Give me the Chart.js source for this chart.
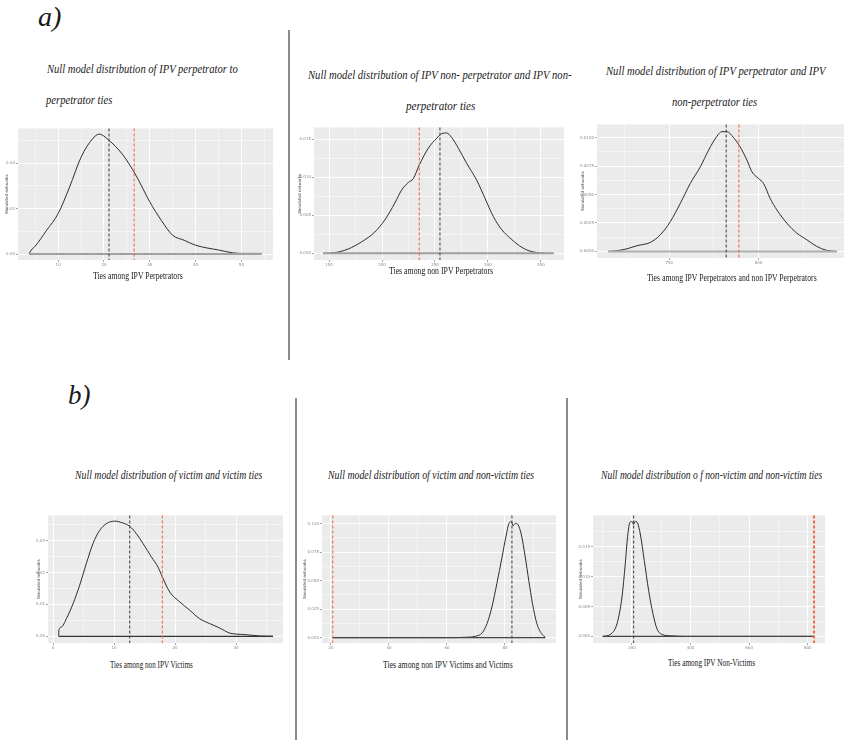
<!DOCTYPE html>
<html>
<head>
<meta charset="utf-8">
<script src="https://cdn.jsdelivr.net/npm/chart.js@4.4.0/dist/chart.umd.min.js"></script>
<style>
  body { margin: 0; width: 844px; height: 740px; overflow: hidden; background: #fff; position: relative;
         font-family: "Liberation Serif", "Times New Roman", serif; color: #1a1a1a; }
  .txt { position: absolute; white-space: nowrap; transform-origin: 0 50%; }
  .ttl { font-style: italic; font-size: 13.5px; line-height: 16px; }
  .lab { font-size: 10.5px; line-height: 12px; }
  .big { font-style: italic; font-size: 27px; line-height: 30px; }
  canvas { position: absolute; }
  .sep { position: absolute; width: 1.5px; background: #8c8c8c; }
</style>
</head>
<body>
<div class="sep" style="left:288px;top:30px;height:330px"></div>
<div class="sep" style="left:295px;top:398px;height:342px"></div>
<div class="sep" style="left:566px;top:398px;height:342px"></div>

<canvas id="c1"></canvas>
<canvas id="c2"></canvas>
<canvas id="c3"></canvas>
<canvas id="c4"></canvas>
<canvas id="c5"></canvas>
<canvas id="c6"></canvas>

<script>
// ---- data ----
// a) perpetrator to perpetrator
const p1X = [3.65, 4.1, 5, 7.5, 10, 12.5, 15, 17.5, 19, 21, 24, 27, 30, 32.5, 35, 37.5, 40, 45, 48, 50, 54.4];
const p1Y = [0, 0.0017, 0.0035, 0.0105, 0.0178, 0.0295, 0.0426, 0.0507, 0.0528, 0.0502, 0.044, 0.0346, 0.023, 0.0149, 0.0083, 0.0061, 0.0039, 0.0018, 0.0006, 0.0003, 0.0003];
const p1XTicks = [10, 20, 30, 40, 50];
const p1YTicks = [0, 0.02, 0.04];
const p1Vlines = [21.1, 26.6];   // black, red

// a) non-perpetrator and non-perpetrator
const p2X = [144.3, 155.4, 168.0, 180.6, 193.2, 202.7, 212.1, 218.5, 224.8, 229.5, 235.2, 243.7, 251.6, 256.3, 261.0, 265.8, 272.1, 280.0, 289.4, 297.3, 305.2, 313.1, 322.6, 332.0, 341.5, 350.9, 362.0];
const p2Y = [0, 0.00009, 0.00057, 0.0015, 0.0028, 0.0044, 0.0066, 0.0083, 0.0093, 0.0098, 0.0116, 0.0138, 0.0151, 0.0157, 0.0158, 0.0152, 0.0138, 0.0118, 0.0096, 0.0072, 0.0048, 0.0031, 0.0018, 0.00079, 0.00022, 0.00004, 0];
const p2XTicks = [150, 200, 250, 300, 350];
const p2YTicks = [0, 0.005, 0.01, 0.015];
const p2Vlines = [254.7, 235.2];

// a) perpetrator and non-perpetrator
const p3X = [715.7, 720.7, 726.3, 731.9, 739.4, 745.0, 750.6, 756.2, 761.8, 767.4, 772.0, 776.7, 779.5, 782.3, 786.0, 789.7, 793.5, 796.3, 800.0, 802.8, 806.5, 810.3, 815.9, 821.5, 827.1, 832.6, 838.2, 843.8];
const p3Y = [0, 0.00006, 0.00023, 0.0005, 0.00079, 0.00146, 0.00262, 0.00423, 0.00598, 0.00743, 0.00889, 0.01012, 0.01052, 0.01052, 0.01, 0.00918, 0.00802, 0.007, 0.00641, 0.00598, 0.00466, 0.00364, 0.00248, 0.0016, 0.00102, 0.00044, 0.00009, 0];
const p3XTicks = [750, 800];
const p3YTicks = [0, 0.0025, 0.005, 0.0075, 0.01];
const p3Vlines = [781.9, 789.0];

// b) victim and victim
const p4X = [0.93, 0.96, 1.37, 2.19, 3.28, 4.37, 5.46, 6.56, 7.65, 8.74, 10.11, 11.48, 12.57, 13.66, 14.75, 16.12, 17.21, 17.92, 19.13, 20.77, 22.40, 24.04, 25.68, 27.32, 28.96, 30.05, 31.69, 33.88, 36.07];
const p4Y = [0, 0.0019, 0.0029, 0.0055, 0.0102, 0.016, 0.0228, 0.0291, 0.0332, 0.0353, 0.0361, 0.0355, 0.0345, 0.0322, 0.0291, 0.0249, 0.0217, 0.0186, 0.0139, 0.0108, 0.0082, 0.0055, 0.004, 0.0026, 0.001, 0.0007, 0.0005, 0.0001, 0];
const p4XTicks = [0, 10, 20, 30];
const p4YTicks = [0, 0.01, 0.02, 0.03];
const p4Vlines = [12.57, 17.92];

// b) victim and non-victim
const p5X = [20.6, 60, 66.3, 69.8, 72.1, 73.8, 75.5, 77.2, 79.0, 80.3, 81.5, 82.2, 82.8, 83.6, 84.5, 85.6, 87.0, 88.2, 89.5, 91.0, 92.8, 93.9];
const p5Y = [0, 0, 0.0003, 0.0012, 0.0041, 0.0123, 0.0269, 0.0474, 0.0708, 0.0883, 0.1009, 0.1018, 0.0982, 0.1003, 0.0991, 0.0909, 0.0708, 0.0503, 0.0298, 0.0123, 0.0029, 0.0006];
const p5XTicks = [20, 40, 60, 80];
const p5YTicks = [0, 0.025, 0.05, 0.075, 0.1];
const p5Vlines = [82.4, 20.6];

// b) non-victim and non-victim
const p6X = [100, 126.1, 148.9, 165.9, 177.3, 185.2, 192.0, 200, 205.7, 211.4, 219.3, 228.4, 242.0, 256.8, 271.6, 285.2, 302.3, 330.7, 387.5, 821.6];
const p6Y = [0, 0.00033, 0.00211, 0.00656, 0.0122, 0.0167, 0.0189, 0.0192, 0.0187, 0.0192, 0.0189, 0.0171, 0.0127, 0.0077, 0.0038, 0.0013, 0.00033, 0.00011, 0, 0];
const p6XTicks = [200, 400, 600, 800];
const p6YTicks = [0, 0.005, 0.01, 0.015];
const p6Vlines = [205.7, 821.6];

// ---- layout of each panel: plot rect, axis limits, label style ----
const panels = [
  { id: 'c1', rect: [18, 128, 273, 260], xr: [1.24, 56.9], yr: [-0.0026, 0.0553], x: p1X, y: p1Y, xt: p1XTicks, yt: p1YTicks, d: 2, v: p1Vlines, yTitleOff: 11, base: '#a0a0a0', baseW: 2 },
  { id: 'c2', rect: [314, 127, 564, 260], xr: [135.8, 371.8], yr: [-0.00087, 0.01653], x: p2X, y: p2Y, xt: p2XTicks, yt: p2YTicks, d: 3, v: p2Vlines, yTitleOff: 14, base: '#a0a0a0', baseW: 2 },
  { id: 'c3', rect: [597, 124, 844, 258], xr: [709.5, 847.9], yr: [-0.00058, 0.01116], x: p3X, y: p3Y, xt: p3XTicks, yt: p3YTicks, d: 4, v: p3Vlines, yTitleOff: 14, base: '#b0b0b0', baseW: 2 },
  { id: 'c4', rect: [48, 515, 283, 643], xr: [-0.82, 37.7], yr: [-0.0021, 0.0379], x: p4X, y: p4Y, xt: p4XTicks, yt: p4YTicks, d: 2, v: p4Vlines, yTitleOff: 9, base: '#333', baseW: 1.3 },
  { id: 'c5', rect: [322, 515, 556, 643], xr: [16.9, 97.6], yr: [-0.0047, 0.1073], x: p5X, y: p5Y, xt: p5XTicks, yt: p5YTicks, d: 3, v: p5Vlines, yTitleOff: 17, base: '#444', baseW: 1.3 },
  { id: 'c6', rect: [593, 515, 825, 643], xr: [67, 859], yr: [-0.0011, 0.0202], x: p6X, y: p6Y, xt: p6XTicks, yt: p6YTicks, d: 3, v: p6Vlines, yTitleOff: 12, base: '#444', baseW: 1.3 }
];

const YW = 20, XH = 12, PADT = 3, PADR = 3;

// grey ggplot panel
const panelBg = {
  id: 'panelBg',
  beforeDraw(chart) {
    const { ctx, chartArea: a } = chart;
    ctx.save();
    ctx.fillStyle = '#ebebeb';
    ctx.fillRect(a.left, a.top, a.right - a.left, a.bottom - a.top);
    ctx.restore();
  }
};

// dashed reference lines, full panel height
const vlines = {
  id: 'vlines',
  afterDatasetsDraw(chart, args, opts) {
    const { ctx, chartArea: a, scales } = chart;
    const cols = ['#4a4a4a', '#ef6c46'];
    opts.lines.forEach((v, i) => {
      const px = scales.x.getPixelForValue(v);
      ctx.save();
      ctx.strokeStyle = cols[i];
      ctx.lineWidth = i === 1 && chart.canvas.id === 'c6' ? 2 : 1.1;
      ctx.setLineDash([3, 2]);
      ctx.beginPath();
      ctx.moveTo(px, a.top);
      ctx.lineTo(px, a.bottom);
      ctx.stroke();
      ctx.restore();
    });
  }
};

function withMinor(t, range) {
  const step = t[1] - t[0];
  const out = [];
  for (let k = -1; k <= 2 * (t.length - 1) + 1; k++) {
    const v = t[0] + k * step / 2;
    if (v >= range[0] && v <= range[1]) out.push({ value: v, m: k % 2 === 0 });
  }
  return out;
}

function axis(ticks, range, digits, isY, p) {
  return {
    type: 'linear',
    min: range[0], max: range[1],
    afterBuildTicks: s => { s.ticks = withMinor(ticks, range); },
    afterFit: s => { if (isY) s.width = YW; else s.height = XH; },
    border: { display: false },
    grid: {
      color: '#ffffff',
      lineWidth: c => (c.tick && c.tick.m ? 0.9 : 0.45),
      drawTicks: true,
      tickLength: 2,
      tickColor: c => (c.tick && c.tick.m ? '#9a9a9a' : 'rgba(0,0,0,0)')
    },
    ticks: {
      autoSkip: false, maxRotation: 0, padding: 1,
      color: '#8a8a8a',
      font: { family: 'DejaVu Sans', size: 4 },
      callback: (v, i, arr) => (arr[i].m ? (isY ? v.toFixed(digits) : String(Math.round(v))) : '')
    },
    title: isY ? {
      display: true, text: 'Simulated networks', color: '#444',
      font: { family: 'DejaVu Sans', size: 4, lineHeight: 1.2 },
      padding: { top: 17.6 - p.yTitleOff, bottom: 0 }
    } : { display: false }
  };
}

panels.forEach(p => {
  const [L, T, R, B] = p.rect;
  const cv = document.getElementById(p.id);
  const w = R - L + YW + PADR, h = B - T + PADT + XH;
  cv.width = w; cv.height = h;
  cv.style.left = (L - YW) + 'px';
  cv.style.top = (T - PADT) + 'px';
  cv.style.width = w + 'px';
  cv.style.height = h + 'px';
  const pts = p.x.map((x, i) => ({ x: x, y: p.y[i] }));
  const base = [{ x: p.x[0], y: 0 }, { x: p.x[p.x.length - 1], y: 0 }];
  new Chart(cv.getContext('2d'), {
    type: 'line',
    data: {
      datasets: [
        { data: base, borderColor: p.base, borderWidth: p.baseW, pointRadius: 0, tension: 0 },
        { data: pts, borderColor: '#2e2e2e', borderWidth: 1, pointRadius: 0, cubicInterpolationMode: 'monotone' }
      ]
    },
    options: {
      responsive: false,
      animation: false,
      events: [],
      layout: { padding: { top: PADT, right: PADR, left: 0, bottom: 0 }, autoPadding: false },
      plugins: { legend: { display: false }, tooltip: { enabled: false }, vlines: { lines: p.v } },
      scales: {
        x: axis(p.xt, p.xr, 0, false, p),
        y: axis(p.yt, p.yr, p.d, true, p)
      }
    },
    plugins: [panelBg, vlines]
  });
});

// ---- text: panel letters, titles, axis titles (condensed to the reference widths) ----
const texts = [
  ['a)', 'big', 38, 62, 17],
  ['b)', 'big', 68, 91, 395],
  ['Null model distribution of IPV perpetrator to', 'ttl', 47, 238, 69],
  ['perpetrator ties', 'ttl', 46, 112, 100],
  ['Null model distribution of IPV non- perpetrator and IPV non-', 'ttl', 308, 572, 75],
  ['perpetrator ties', 'ttl', 406, 475, 106],
  ['Null model distribution of IPV perpetrator and IPV', 'ttl', 606, 826, 71],
  ['non-perpetrator ties', 'ttl', 672, 757, 102],
  ['Null model distribution of victim and victim ties', 'ttl', 75, 262, 475],
  ['Null model distribution of victim and non-victim ties', 'ttl', 328, 534, 475],
  ['Null model distribution o f non-victim and non-victim ties', 'ttl', 601, 822, 475],
  ['Ties among IPV Perpetrators', 'lab', 93, 183, 276],
  ['Ties among non IPV Perpetrators', 'lab', 389, 493, 271],
  ['Ties among IPV Perpetrators and non IPV Perpetrators', 'lab', 647, 817, 278],
  ['Ties among non IPV Victims', 'lab', 110, 193, 665],
  ['Ties among non IPV Victims and Victims', 'lab', 383, 513, 665],
  ['Ties among IPV Non-Victims', 'lab', 668, 755, 663]
];
texts.forEach(([s, cls, x0, x1, cy]) => {
  const el = document.createElement('div');
  el.className = 'txt ' + cls;
  el.textContent = s;
  document.body.appendChild(el);
  const k = (x1 - x0) / el.offsetWidth;
  el.style.left = x0 + 'px';
  el.style.top = (cy - el.offsetHeight / 2) + 'px';
  el.style.transform = 'scaleX(' + k.toFixed(3) + ')';
});
</script>
</body>
</html>
